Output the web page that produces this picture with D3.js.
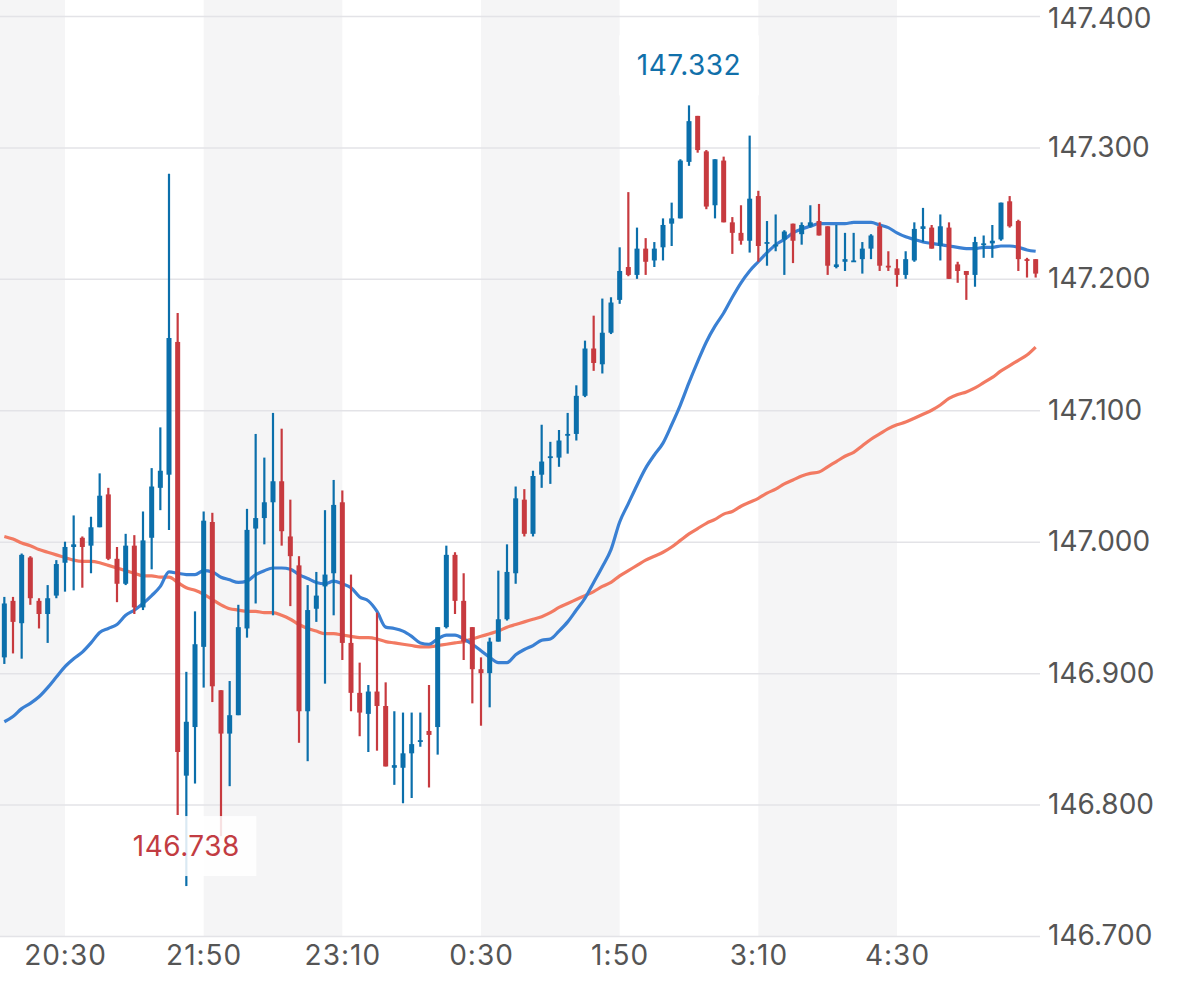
<!DOCTYPE html>
<html>
<head>
<meta charset="utf-8">
<script src="https://cdn.jsdelivr.net/npm/d3@7"></script>
<style>
  body { margin: 0; background: #fff; }
  svg { display: block; font-family: Inter, Roboto, sans-serif; }
</style>
</head>
<body>
<div id="chart"></div>
<script>
// 5-minute candles, 19:55 -> 5:50
const firstBar = "19:55";
const barMinutes = 5;

const opens = [
  146.912,146.955,146.938,146.988,146.955,146.945,146.959,146.984,146.996,147.003,
  146.997,147.011,147.036,146.987,146.968,146.997,146.950,147.003,147.041,147.051,
  147.152,146.822,146.859,146.920,147.015,146.887,146.854,146.868,146.934,147.010,
  147.018,147.030,147.046,147.004,146.982,146.871,146.949,146.966,146.976,147.030,
  146.923,146.885,146.869,146.886,146.875,146.828,146.828,146.839,146.848,146.856,
  146.859,146.935,146.990,146.955,146.935,146.903,146.900,146.924,146.941,146.976,
  147.032,147.006,147.051,147.064,147.064,147.081,147.082,147.111,147.147,147.135,
  147.159,147.184,147.209,147.203,147.223,147.214,147.224,147.242,147.246,147.289,
  147.324,147.297,147.256,147.290,147.243,147.235,147.229,147.263,147.227,147.225,
  147.230,147.242,147.234,147.240,147.244,147.240,147.209,147.213,147.213,147.215,
  147.223,147.240,147.210,147.208,147.203,147.214,147.238,147.239,147.225,147.239,
  147.211,147.206,147.203,147.226,147.227,147.230,147.259,147.244,147.215,147.215
];
const highs = [
  146.958,146.958,146.991,146.989,146.957,146.967,146.986,147.000,147.020,147.004,
  147.019,147.052,147.041,146.996,147.006,147.005,147.023,147.056,147.087,147.280,
  147.174,146.901,146.947,147.023,147.022,146.887,146.894,146.952,147.025,147.082,
  147.064,147.098,147.086,147.032,146.989,146.967,146.977,147.024,147.047,147.039,
  146.975,146.908,146.891,146.946,146.893,146.871,146.870,146.870,146.870,146.891,
  146.935,146.997,146.992,146.976,146.935,146.912,146.927,146.978,146.998,147.042,
  147.040,147.054,147.089,147.076,147.085,147.098,147.119,147.153,147.172,147.185,
  147.186,147.224,147.266,147.239,147.231,147.228,147.246,147.258,147.291,147.332,
  147.324,147.298,147.291,147.293,147.247,147.256,147.309,147.267,147.244,147.249,
  147.237,147.242,147.243,147.256,147.257,147.240,147.241,147.235,147.235,147.228,
  147.234,147.243,147.221,147.215,147.221,147.243,147.254,147.241,147.249,147.243,
  147.213,147.206,147.232,147.233,147.241,147.258,147.263,147.245,147.216,147.215
];
const lows = [
  146.907,146.915,146.911,146.952,146.934,146.923,146.957,146.962,146.963,146.965,
  146.976,147.011,146.986,146.954,146.967,146.945,146.948,146.979,147.024,147.009,
  146.792,146.738,146.816,146.889,146.878,146.776,146.814,146.868,146.927,146.953,
  146.998,146.944,146.997,146.951,146.847,146.833,146.939,146.892,146.944,146.910,
  146.871,146.852,146.840,146.841,146.829,146.815,146.801,146.805,146.844,146.813,
  146.838,146.934,146.945,146.910,146.877,146.860,146.874,146.924,146.940,146.968,
  147.004,147.004,147.041,147.044,147.057,147.067,147.077,147.110,147.130,147.128,
  147.158,147.181,147.202,147.200,147.203,147.209,147.214,147.225,147.246,147.286,
  147.296,147.253,147.246,147.243,147.219,147.226,147.220,147.213,147.210,147.221,
  147.203,147.212,147.226,147.239,147.233,147.203,147.208,147.206,147.213,147.204,
  147.215,147.206,147.206,147.194,147.200,147.213,147.228,147.223,147.214,147.200,
  147.197,147.184,147.194,147.216,147.216,147.229,147.239,147.206,147.201,147.201
];
const closes = [
  146.953,146.939,146.990,146.957,146.945,146.957,146.983,146.996,146.998,146.996,
  147.011,147.035,146.987,146.968,146.997,146.950,147.001,147.042,147.054,147.155,
  146.840,146.863,146.922,147.016,146.890,146.854,146.868,146.935,147.009,147.018,
  147.030,147.046,147.008,146.989,146.871,146.948,146.959,146.975,147.028,146.923,
  146.885,146.870,146.886,146.875,146.829,146.830,146.839,146.846,146.849,146.853,
  146.935,146.990,146.955,146.924,146.903,146.900,146.924,146.941,146.977,147.033,
  147.006,147.050,147.061,147.065,147.077,147.082,147.111,147.147,147.136,147.159,
  147.182,147.206,147.203,147.223,147.213,147.223,147.241,147.246,147.290,147.320,
  147.298,147.255,147.291,147.243,147.235,147.229,147.261,147.225,147.228,147.226,
  147.236,147.229,147.241,147.243,147.233,147.210,147.211,147.215,147.214,147.223,
  147.233,147.210,147.209,147.203,147.215,147.238,147.240,147.223,147.240,147.200,
  147.206,147.203,147.228,147.227,147.229,147.258,147.240,147.215,147.214,147.204
];

// moving averages as drawn (blue = short, orange = long)
const maShort = [
  146.863,146.867,146.873,146.877,146.882,146.889,146.897,146.905,146.911,146.916,
  146.923,146.931,146.934,146.937,146.944,146.948,146.953,146.959,146.966,146.977,
  146.976,146.975,146.975,146.978,146.977,146.973,146.971,146.969,146.970,146.975,
  146.978,146.980,146.980,146.979,146.975,146.972,146.969,146.968,146.970,146.968,
  146.965,146.958,146.955,146.947,146.935,146.934,146.932,146.928,146.923,146.922,
  146.926,146.929,146.929,146.926,146.922,146.917,146.912,146.908,146.908,146.914,
  146.918,146.921,146.925,146.926,146.932,146.939,146.948,146.957,146.969,146.981,
  146.994,147.015,147.029,147.043,147.056,147.066,147.075,147.089,147.104,147.121,
  147.137,147.152,147.164,147.174,147.186,147.197,147.206,147.213,147.220,147.226,
  147.230,147.235,147.238,147.240,147.242,147.242,147.242,147.242,147.243,147.243,
  147.243,147.241,147.239,147.235,147.232,147.230,147.228,147.227,147.226,147.225,
  147.224,147.223,147.223,147.224,147.224,147.225,147.225,147.224,147.222,147.221
];
const maLong = [
  147.004,147.002,146.999,146.997,146.994,146.992,146.990,146.988,146.986,146.985,
  146.985,146.984,146.982,146.980,146.978,146.976,146.974,146.974,146.973,146.973,
  146.969,146.965,146.963,146.960,146.956,146.952,146.949,146.948,146.947,146.947,
  146.946,146.946,146.944,146.941,146.937,146.934,146.932,146.930,146.930,146.929,
  146.928,146.927,146.927,146.926,146.924,146.923,146.922,146.921,146.920,146.920,
  146.921,146.922,146.923,146.924,146.926,146.928,146.930,146.932,146.935,146.937,
  146.939,146.941,146.943,146.946,146.950,146.953,146.956,146.959,146.962,146.966,
  146.969,146.974,146.978,146.982,146.986,146.989,146.992,146.996,147.001,147.006,
  147.010,147.014,147.017,147.021,147.023,147.027,147.030,147.033,147.037,147.040,
  147.044,147.047,147.050,147.052,147.053,147.057,147.061,147.065,147.068,147.073,
  147.078,147.082,147.086,147.089,147.091,147.094,147.097,147.100,147.104,147.109,
  147.112,147.114,147.117,147.121,147.125,147.130,147.134,147.138,147.142,147.148
];

const timeTicks = ["20:30", "21:50", "23:10", "0:30", "1:50", "3:10", "4:30"];
const priceTicks = [146.7, 146.8, 146.9, 147.0, 147.1, 147.2, 147.3, 147.4];

const width = 1179, height = 990;
const plotRight = 1040, plotBottom = 936, plotTop = 16;

// times after midnight fall on the next day
function toDate(s) {
  const [h, m] = s.split(":").map(Number);
  return new Date(2024, 0, h < 12 ? 2 : 1, h, m);
}
const t0 = toDate(firstBar);
const times = d3.range(opens.length).map(i => d3.timeMinute.offset(t0, i * barMinutes));
const data = times.map((t, i) => ({
  t, o: opens[i], h: highs[i], l: lows[i], c: closes[i], s: maShort[i], g: maLong[i]
}));

const x = d3.scaleTime()
  .domain([d3.timeSecond.offset(times[0], -150), d3.timeSecond.offset(times[times.length - 1], 150)])
  .range([0, plotRight]);
const y = d3.scaleLinear().domain([146.7, 147.4]).range([plotBottom, plotTop]);

const svg = d3.select("#chart").append("svg")
  .attr("width", width).attr("height", height);

// alternating session bands
const edges = [x.domain()[0], ...timeTicks.map(toDate), x.domain()[1]];
const bands = d3.pairs(edges).filter((d, i) => i % 2 === 0);
svg.append("g").selectAll("rect").data(bands).join("rect")
  .attr("x", d => x(d[0]))
  .attr("width", d => x(d[1]) - x(d[0]))
  .attr("y", 0)
  .attr("height", plotBottom)
  .attr("fill", "#f5f5f6");

// price axis with grid
const yAxis = svg.append("g")
  .attr("transform", `translate(${plotRight},0)`)
  .call(d3.axisRight(y).tickValues(priceTicks).tickFormat(d3.format(".3f")).tickSize(-plotRight).tickPadding(8));
yAxis.select(".domain").remove();
yAxis.selectAll("line").attr("stroke", "#e3e3e7").attr("stroke-width", 1.5);
yAxis.selectAll("text").attr("fill", "#555").attr("font-size", 28).attr("font-family", "Inter, Roboto, sans-serif")
  .attr("dy", d => d === 147.4 ? "0.42em" : "0.32em");

// time axis
const xAxis = svg.append("g")
  .attr("transform", `translate(0,${plotBottom})`)
  .call(d3.axisBottom(x).tickValues(timeTicks.map(toDate)).tickFormat(d3.timeFormat("%-H:%M")).tickSize(0).tickPadding(9));
xAxis.select(".domain").remove();
xAxis.selectAll("text").attr("fill", "#555").attr("font-size", 28).attr("font-family", "Inter, Roboto, sans-serif")
  .attr("letter-spacing", 1);

// moving averages
const line = key => d3.line().x(d => x(d.t)).y(d => y(d[key])).curve(d3.curveMonotoneX);
svg.append("path").datum(data).attr("d", line("g"))
  .attr("fill", "none").attr("stroke", "#f27a62").attr("stroke-width", 3.2);
svg.append("path").datum(data).attr("d", line("s"))
  .attr("fill", "none").attr("stroke", "#3a80d3").attr("stroke-width", 3.2);

// candles
const up = "#0b6fab", down = "#c73a3f";
const bodyW = 5;
const candle = svg.append("g").selectAll("g").data(data).join("g")
  .attr("fill", d => d.c >= d.o ? up : down)
  .attr("stroke", d => d.c >= d.o ? up : down);
candle.append("line")
  .attr("x1", d => x(d.t)).attr("x2", d => x(d.t))
  .attr("y1", d => y(d.h)).attr("y2", d => y(d.l))
  .attr("stroke-width", 2.2);
candle.append("rect")
  .attr("stroke", "none")
  .attr("x", d => x(d.t) - bodyW / 2)
  .attr("width", bodyW)
  .attr("y", d => y(Math.max(d.o, d.c)))
  .attr("height", d => Math.max(1.8, Math.abs(y(d.o) - y(d.c))));

// high / low markers
const hi = data[d3.maxIndex(data, d => d.h)];
const lo = data[d3.minIndex(data, d => d.l)];
const marks = [
  { d: hi, v: hi.h, color: "#1170aa" },
  { d: lo, v: lo.l, color: "#c23c42" }
];
const mk = svg.append("g").selectAll("g").data(marks).join("g")
  .attr("transform", m => `translate(${x(m.d.t)},${y(m.v) - 40})`);
mk.append("rect")
  .attr("x", -70).attr("y", -30).attr("width", 140).attr("height", 60)
  .attr("fill", "#fff").attr("fill-opacity", 0.85);
mk.append("text")
  .attr("text-anchor", "middle")
  .attr("dy", "0.35em")
  .attr("font-size", 28)
  .attr("letter-spacing", 0.5)
  .attr("fill", m => m.color)
  .text(m => d3.format(".3f")(m.v));
</script>
</body>
</html>
